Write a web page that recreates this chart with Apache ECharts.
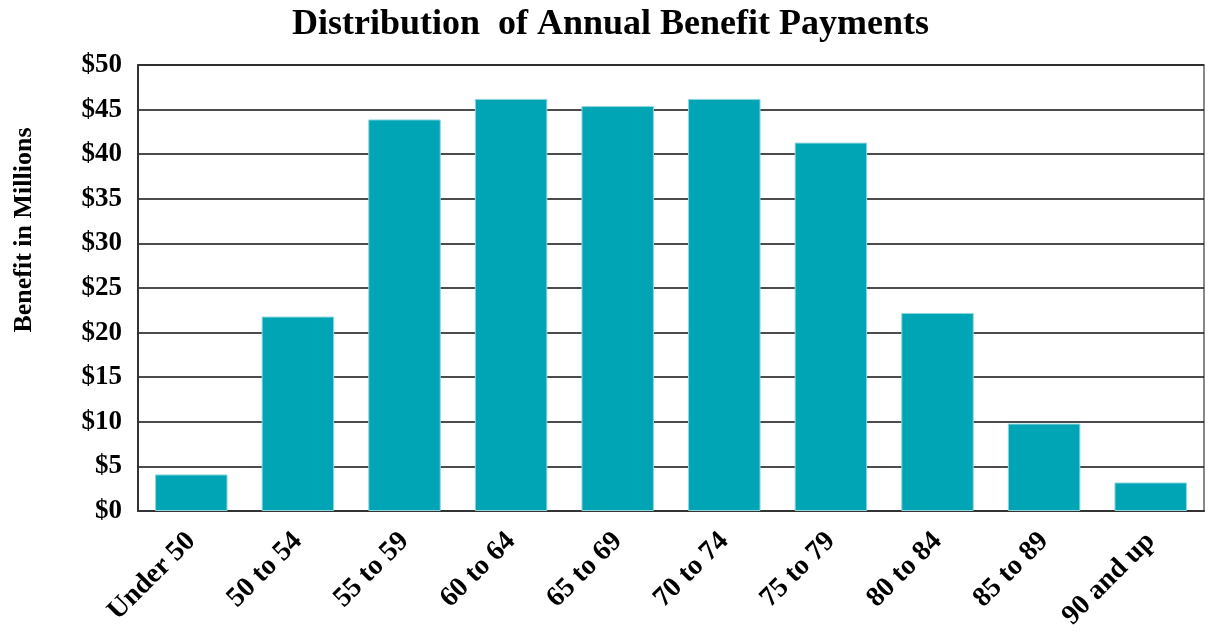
<!DOCTYPE html>
<html>
<head>
<meta charset="utf-8">
<script src="https://cdn.jsdelivr.net/npm/echarts@6/dist/echarts.min.js"></script>
<style>
  html, body { margin: 0; padding: 0; background: #fff; }
  #main { width: 1221px; height: 638px; }
</style>
</head>
<body>
<div id="main"></div>
<script>
var categories = ['Under 50', '50 to 54', '55 to 59', '60 to 64', '65 to 69', '70 to 74', '75 to 79', '80 to 84', '85 to 89', '90 and up'];
var benefits = [4.1, 21.8, 43.9, 46.2, 45.4, 46.2, 41.3, 22.2, 9.8, 3.2];

var font = '"Liberation Serif", "Times New Roman", serif';

var option = {
  backgroundColor: '#fff',
  title: {
    text: 'Distribution  of Annual Benefit Payments',
    left: 'center',
    top: 2,
    textStyle: {
      fontFamily: font,
      fontWeight: 'bold',
      fontSize: 36,
      color: '#000'
    }
  },
  grid: {
    left: 138,
    right: 17,
    top: 65,
    bottom: 127,
    show: true,
    borderColor: '#888',
    borderWidth: 2
  },
  xAxis: {
    type: 'category',
    data: categories,
    axisLine: { lineStyle: { color: '#333', width: 2 } },
    axisTick: { show: false },
    axisLabel: {
      rotate: 45,
      interval: 0,
      margin: 26,
      fontFamily: font,
      fontWeight: 'bold',
      fontSize: 28,
      color: '#000'
    }
  },
  yAxis: {
    type: 'value',
    min: 0,
    max: 50,
    interval: 5,
    name: 'Benefit in Millions',
    nameLocation: 'middle',
    nameGap: 101,
    nameTextStyle: {
      fontFamily: font,
      fontWeight: 'bold',
      fontSize: 26,
      color: '#000',
      padding: [0, 0, 0, 116]
    },
    axisLine: { show: true, lineStyle: { color: '#333', width: 2 } },
    axisTick: { show: false },
    splitLine: { lineStyle: { color: '#111', width: 1.5 } },
    axisLabel: {
      margin: 16,
      fontFamily: font,
      fontWeight: 'bold',
      fontSize: 27,
      color: '#000',
      formatter: function (v) { return '$' + v; }
    }
  },
  series: [{
    type: 'bar',
    data: benefits,
    barWidth: '68%',
    itemStyle: {
      color: '#00a5b5',
      borderColor: '#8fd6de',
      borderWidth: 1
    }
  }]
};

var myChart = echarts.init(document.getElementById('main'));
myChart.setOption(option);
</script>
</body>
</html>
